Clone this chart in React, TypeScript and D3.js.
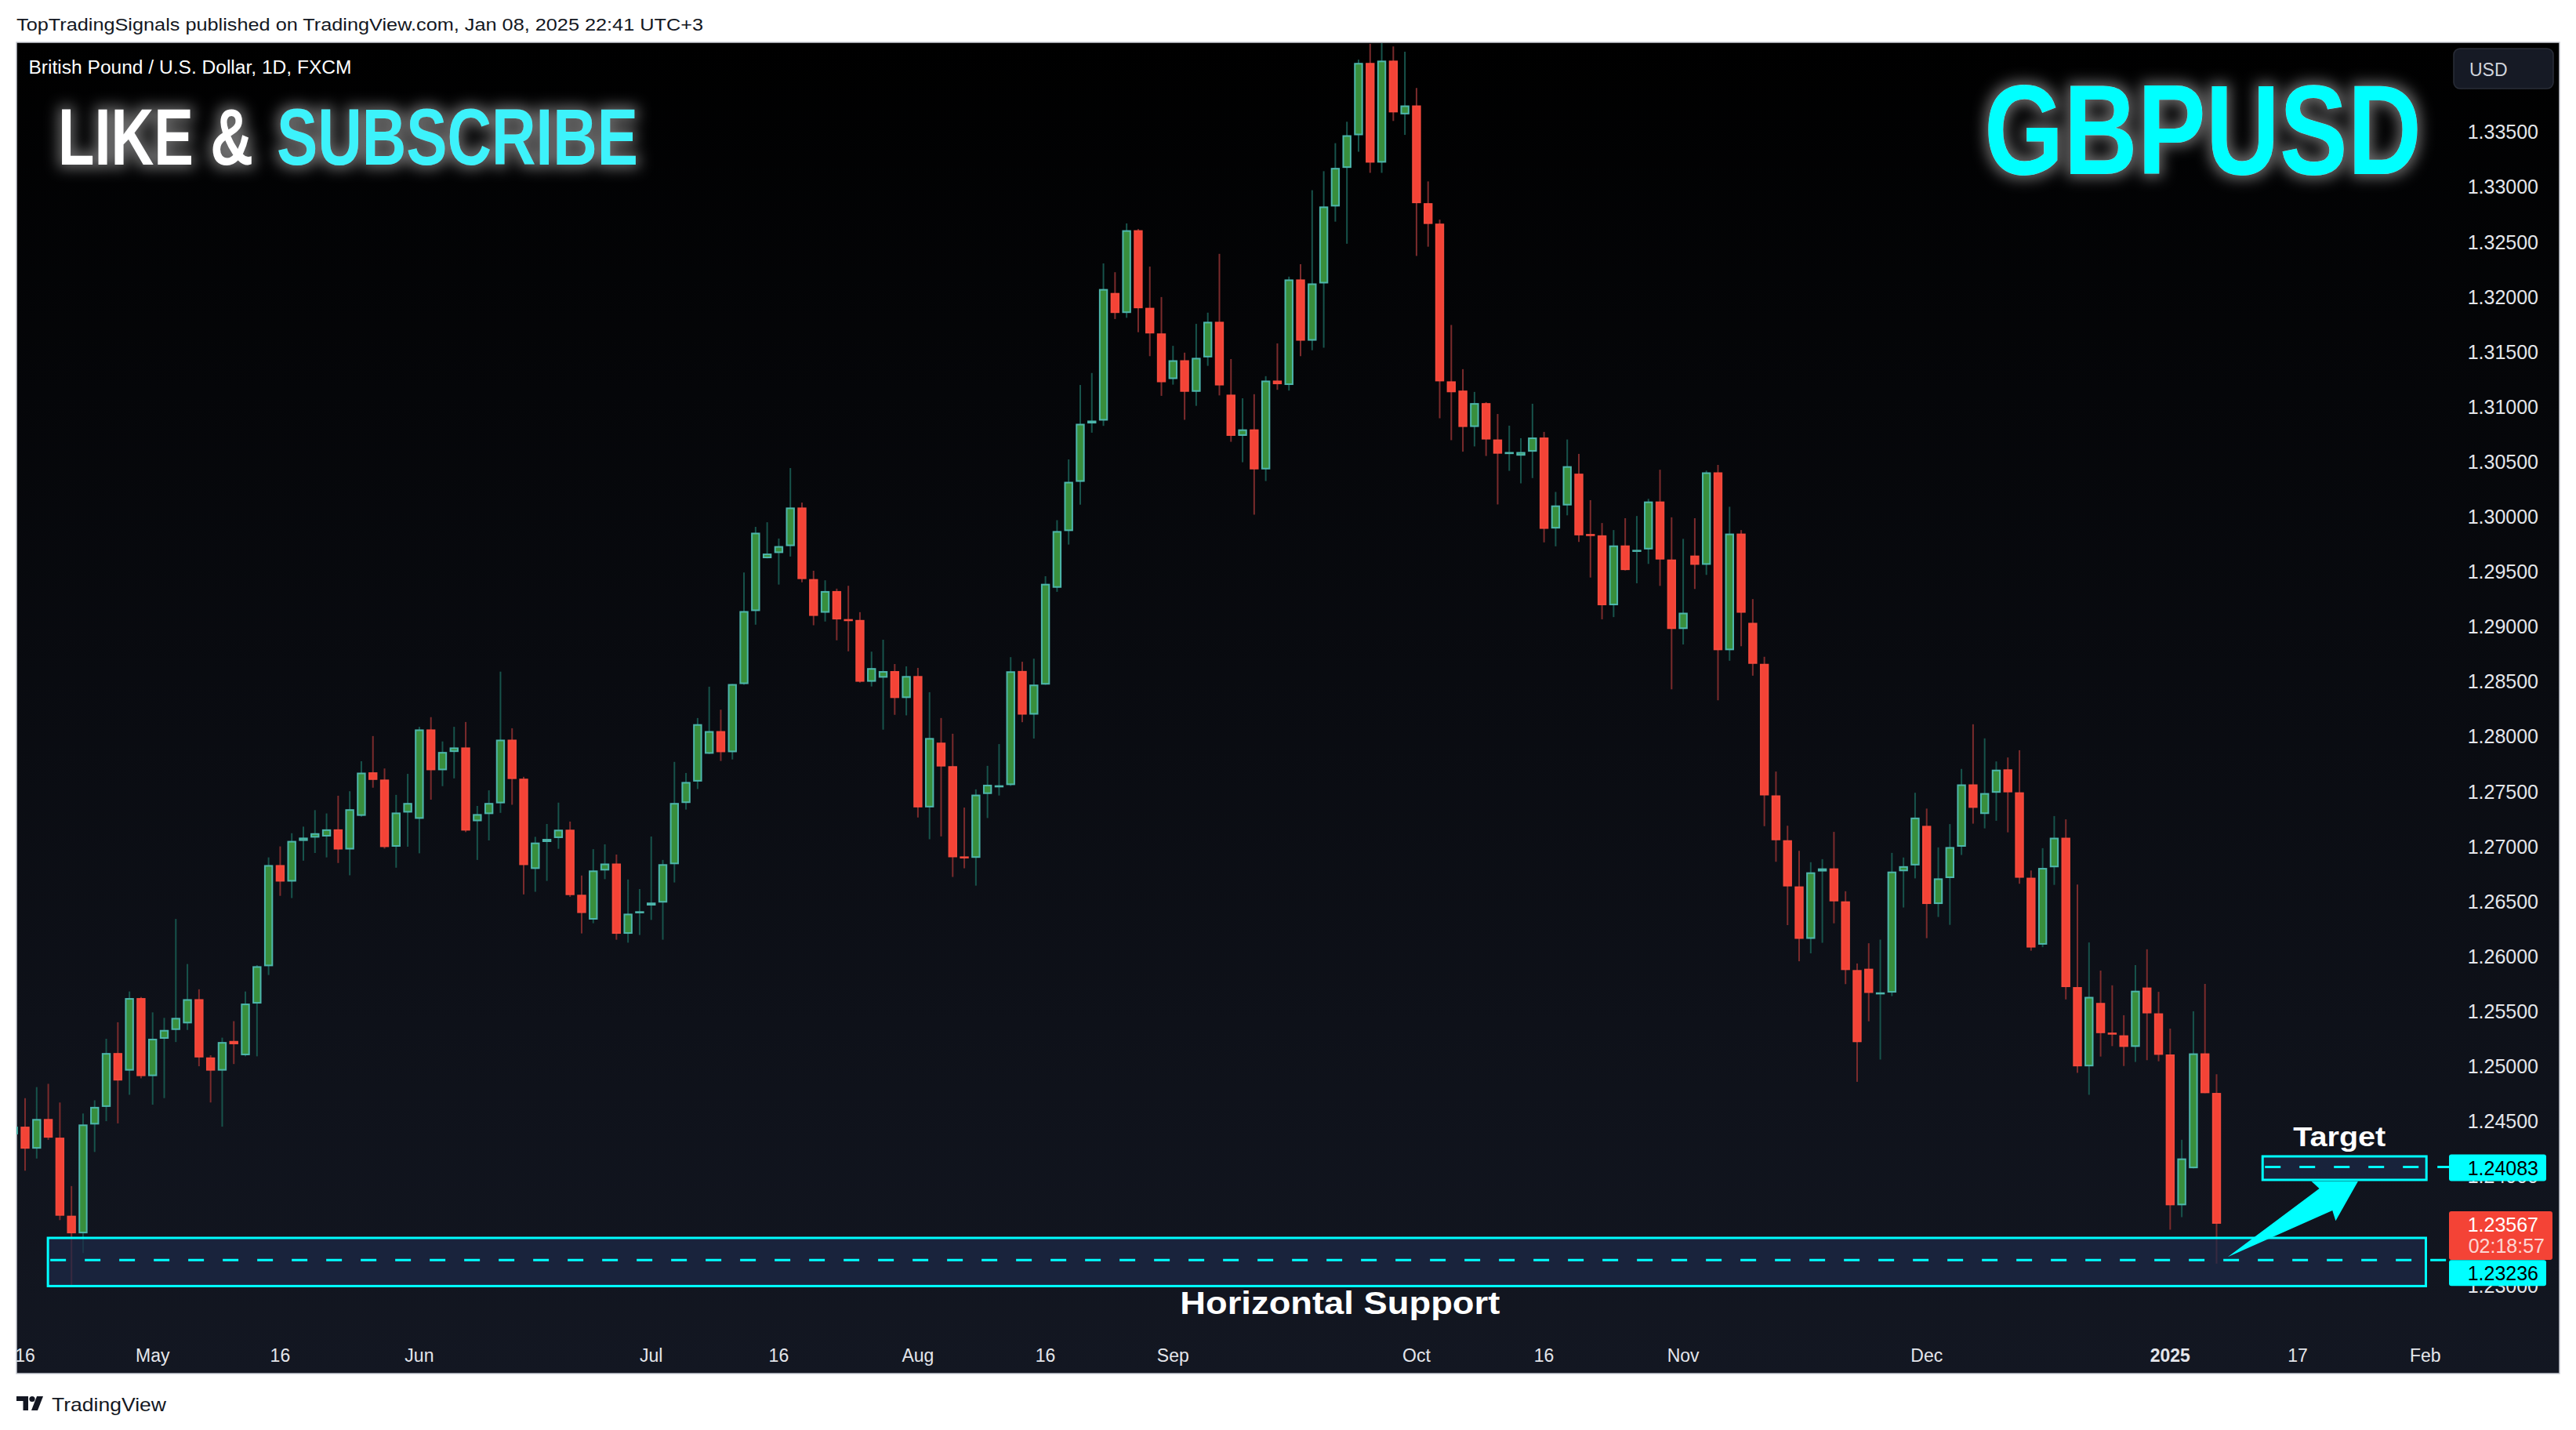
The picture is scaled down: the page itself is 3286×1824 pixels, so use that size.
import React from "react";
import * as d3 from "d3";

// GBPUSD daily, FXCM. First bar is Apr 15 2024 (mostly clipped), last is Jan 8 2025.
const holidays = ["2024-12-25", "2025-01-01"];

const opens: number[] = [
  1.2438,
  1.2445, 1.2425, 1.2452, 1.2435, 1.2364, 1.2348, 1.2447, 1.2463, 1.2512, 1.2496, 1.2562,
  1.2491, 1.2525, 1.2533, 1.2539, 1.2561, 1.2508, 1.2496, 1.2523, 1.2510, 1.2557, 1.2591, 1.2683, 1.2668, 1.2705, 1.2708, 1.2709, 1.27155, 1.26972, 1.27278, 1.27674, 1.27608, 1.26997, 1.27308,
  1.27251, 1.28064, 1.27693, 1.27859, 1.279, 1.27229, 1.27294, 1.27392, 1.27971, 1.27616, 1.26795, 1.2704, 1.27076, 1.27152, 1.2656, 1.26334, 1.26781, 1.26844, 1.26205, 1.26394,
  1.26462, 1.26489, 1.26838, 1.27395, 1.2759, 1.27843, 1.28049, 1.27857, 1.28477, 1.29141, 1.29622, 1.29669, 1.29732, 1.30083, 1.29432, 1.29126, 1.29323, 1.29068, 1.2906, 1.28498, 1.28535, 1.28595, 1.2835,
  1.2855, 1.27355, 1.27944, 1.2773, 1.26909, 1.26896, 1.27477, 1.27537, 1.27558, 1.28596, 1.28199, 1.28472, 1.29353, 1.29869, 1.30317, 1.30848, 1.30874, 1.32035, 1.31853, 1.32606, 1.319, 1.31667,
  1.31252, 1.31423, 1.31136, 1.31449, 1.31773, 1.3111, 1.30735, 1.30794, 1.3043, 1.31238, 1.31198, 1.32158, 1.31601, 1.32122, 1.32822, 1.33173, 1.3347, 1.34128, 1.33221, 1.34149, 1.3366,
  1.33741, 1.32852, 1.32666, 1.31231, 1.31147, 1.30816, 1.31033, 1.30702, 1.30583, 1.30555, 1.30591, 1.3072, 1.29892, 1.30102, 1.30391, 1.29842, 1.2983, 1.29194, 1.29738, 1.29682, 1.29702, 1.30138, 1.2961,
  1.28978, 1.29646, 1.29562, 1.30403, 1.28785, 1.29846, 1.29034, 1.28661, 1.27464, 1.27056, 1.26636, 1.26159, 1.26772, 1.268, 1.265, 1.25875, 1.25887, 1.2567, 1.2567, 1.26774, 1.26827,
  1.27187, 1.26476, 1.26712, 1.26997, 1.27564, 1.27295, 1.27488, 1.27701, 1.27492, 1.26715, 1.26106, 1.2681, 1.27079, 1.2572, 1.24999, 1.25576, 1.25306, 1.25281, 1.25176, 1.25716, 1.25481,
  1.25107, 1.23735, 1.24072, 1.25117, 1.24757,
];

const highs: number[] = [
  1.247,
  1.2471, 1.2481, 1.2484, 1.2467, 1.2391, 1.2457, 1.2469, 1.2525, 1.254, 1.2568, 1.2563,
  1.2549, 1.2544, 1.2634, 1.2593, 1.257, 1.251, 1.2526, 1.2541, 1.2568, 1.2592, 1.269, 1.27, 1.2712, 1.2718, 1.2733, 1.273, 1.27461, 1.27502, 1.27775, 1.28004, 1.27709, 1.27469, 1.2766,
  1.28088, 1.28176, 1.27955, 1.28088, 1.28132, 1.27368, 1.2751, 1.2859, 1.28075, 1.27633, 1.27087, 1.27204, 1.27398, 1.27226, 1.26735, 1.26975, 1.27019, 1.26926, 1.26699, 1.26612,
  1.2709, 1.26877, 1.27769, 1.27668, 1.28168, 1.28453, 1.28244, 1.28477, 1.29492, 1.29907, 1.29949, 1.29801, 1.30442, 1.30128, 1.29508, 1.29421, 1.29345, 1.29371, 1.29131, 1.28772, 1.2888, 1.28659, 1.28638,
  1.28624, 1.28403, 1.28168, 1.28025, 1.27353, 1.27519, 1.27733, 1.27931, 1.28722, 1.2868, 1.28708, 1.29458, 1.29968, 1.30521, 1.31198, 1.31307, 1.32304, 1.32224, 1.32668, 1.32617, 1.32275, 1.31998,
  1.31554, 1.31492, 1.31754, 1.31856, 1.32391, 1.31434, 1.31077, 1.31114, 1.31278, 1.31576, 1.32184, 1.32297, 1.3297, 1.33143, 1.33398, 1.33593, 1.34158, 1.34302, 1.34308, 1.34278, 1.3423,
  1.339, 1.3305, 1.32702, 1.31744, 1.31342, 1.31135, 1.31042, 1.30934, 1.30828, 1.30714, 1.31027, 1.30771, 1.30225, 1.30702, 1.30571, 1.3015, 1.29942, 1.29878, 1.29986, 1.30006, 1.30162, 1.30427, 1.29994,
  1.29798, 1.29986, 1.30419, 1.30471, 1.3009, 1.29878, 1.2925, 1.28725, 1.27681, 1.27188, 1.2696, 1.26856, 1.26884, 1.27132, 1.26592, 1.25935, 1.26119, 1.26152, 1.26941, 1.26899, 1.27488,
  1.27344, 1.26991, 1.27203, 1.27705, 1.28111, 1.27983, 1.27773, 1.27809, 1.27875, 1.26781, 1.26984, 1.27276, 1.27246, 1.26653, 1.26126, 1.2587, 1.25736, 1.25464, 1.2592, 1.26064, 1.25677,
  1.25343, 1.24331, 1.255, 1.25749, 1.24927,
];

const lows: number[] = [
  1.2425,
  1.2405, 1.2416, 1.2433, 1.236, 1.23, 1.233, 1.2422, 1.245, 1.2448, 1.2474, 1.2489,
  1.2465, 1.2471, 1.2522, 1.2533, 1.25, 1.2467, 1.2445, 1.2502, 1.2509, 1.2509, 1.2583, 1.2655, 1.2653, 1.2687, 1.2694, 1.269, 1.26849, 1.26737, 1.2727, 1.27534, 1.2698, 1.26806, 1.26997,
  1.26937, 1.27425, 1.27548, 1.27619, 1.2713, 1.26877, 1.27054, 1.27305, 1.27379, 1.26563, 1.26587, 1.26686, 1.26978, 1.26541, 1.26208, 1.26301, 1.26702, 1.26151, 1.26124, 1.26194,
  1.26331, 1.26151, 1.26672, 1.27335, 1.27522, 1.2784, 1.27777, 1.27791, 1.2847, 1.29017, 1.2962, 1.29382, 1.29637, 1.29403, 1.29012, 1.29046, 1.28875, 1.28775, 1.2849, 1.28455, 1.28062, 1.28197, 1.28192,
  1.27263, 1.27065, 1.27091, 1.26722, 1.26801, 1.26643, 1.27258, 1.27463, 1.2755, 1.2813, 1.27981, 1.2847, 1.29316, 1.29746, 1.30109, 1.30764, 1.30826, 1.31798, 1.31809, 1.31678, 1.3146, 1.31099,
  1.31201, 1.30881, 1.31008, 1.31372, 1.31103, 1.30681, 1.30495, 1.30018, 1.30324, 1.31154, 1.31147, 1.3146, 1.31514, 1.31537, 1.32684, 1.32483, 1.3332, 1.33128, 1.33128, 1.336, 1.33473,
  1.32372, 1.32456, 1.30895, 1.30696, 1.30591, 1.30639, 1.30552, 1.30111, 1.30417, 1.30303, 1.30351, 1.29766, 1.2973, 1.30012, 1.2977, 1.29446, 1.29066, 1.29086, 1.2951, 1.29394, 1.2957, 1.2937, 1.28429,
  1.28837, 1.29342, 1.2947, 1.28329, 1.28689, 1.28821, 1.28553, 1.27184, 1.2686, 1.26284, 1.25955, 1.26027, 1.26123, 1.263, 1.25747, 1.24858, 1.25409, 1.25061, 1.25638, 1.26444, 1.26709,
  1.26165, 1.26358, 1.26286, 1.26922, 1.27207, 1.27164, 1.27233, 1.27128, 1.2666, 1.26051, 1.26083, 1.2665, 1.25608, 1.2494, 1.2474, 1.25088, 1.25183, 1.25002, 1.25039, 1.25055, 1.25045,
  1.23512, 1.23627, 1.2407, 1.24755, 1.23204,
];

const closes: number[] = [
  1.2445,
  1.2425, 1.2452, 1.2435, 1.2364, 1.2348, 1.2447, 1.2463, 1.2512, 1.2487, 1.2562, 1.2491,
  1.2525, 1.2533, 1.2544, 1.2561, 1.2508, 1.2496, 1.2522, 1.252, 1.2557, 1.2591, 1.2683, 1.2668, 1.2705, 1.2708, 1.2712, 1.27155, 1.26972, 1.27338, 1.27671, 1.27605, 1.26994, 1.27308, 1.27395,
  1.28064, 1.27693, 1.27859, 1.279, 1.27144, 1.27294, 1.27395, 1.27971, 1.27613, 1.2683, 1.27035, 1.27068, 1.27152, 1.26557, 1.26394, 1.26781, 1.26844, 1.26205, 1.26388, 1.2641,
  1.26489, 1.26838, 1.27395, 1.27586, 1.28112, 1.28049, 1.27857, 1.28477, 1.29141, 1.29854, 1.29664, 1.29732, 1.30083, 1.29432, 1.29097, 1.29323, 1.29065, 1.29065, 1.28498, 1.28622, 1.28595, 1.2835, 1.2855,
  1.27355, 1.27986, 1.27727, 1.26901, 1.26904, 1.27471, 1.27561, 1.27556, 1.28593, 1.28199, 1.28472, 1.29389, 1.29869, 1.30317, 1.30845, 1.30874, 1.32071, 1.31853, 1.32606, 1.31896, 1.31667, 1.31223,
  1.31423, 1.31136, 1.31445, 1.31773, 1.31194, 1.30735, 1.30794, 1.3043, 1.31238, 1.31205, 1.32158, 1.31601, 1.32122, 1.32822, 1.33173, 1.3347, 1.34128, 1.33221, 1.34149, 1.33678, 1.33741,
  1.32852, 1.32663, 1.31231, 1.31132, 1.30816, 1.31033, 1.30702, 1.30573, 1.30588, 1.30588, 1.3072, 1.29889, 1.30102, 1.30459, 1.2983, 1.29834, 1.29194, 1.29738, 1.29514, 1.29698, 1.30138, 1.2961, 1.28978,
  1.29126, 1.29562, 1.30403, 1.28785, 1.29846, 1.29126, 1.28661, 1.27464, 1.27056, 1.26636, 1.26159, 1.26764, 1.268, 1.265, 1.25875, 1.25219, 1.25667, 1.25672, 1.26771, 1.2682, 1.27262,
  1.26476, 1.26709, 1.26994, 1.27564, 1.27351, 1.27485, 1.27698, 1.27492, 1.26715, 1.2608, 1.26804, 1.27079, 1.2572, 1.24999, 1.25631, 1.25301, 1.25302, 1.25176, 1.25687, 1.25481, 1.25104,
  1.23735, 1.24161, 1.25117, 1.24755, 1.23567,
];

// 1.23500 sits fully under the last-price label, so the scale hides it
const priceTicks = d3
  .range(0, 22)
  .map((i) => 1.23 + i * 0.005)
  .filter((p) => Math.abs(p - 1.235) > 1e-6);

const timeTicks: [string, string][] = [
  ["2024-04-16", "16"], ["2024-05-01", "May"], ["2024-05-16", "16"], ["2024-06-03", "Jun"],
  ["2024-07-01", "Jul"], ["2024-07-16", "16"], ["2024-08-01", "Aug"], ["2024-08-16", "16"],
  ["2024-09-02", "Sep"], ["2024-10-01", "Oct"], ["2024-10-16", "16"], ["2024-11-01", "Nov"],
  ["2024-12-02", "Dec"], ["2025-01-02", "2025"], ["2025-01-17", "17"], ["2025-02-03", "Feb"],
];

// drawings: zones in (bar index, price)
const supportZone = { from: 2.97, to: 208.05, top: 1.23438, bottom: 1.23, level: 1.23236 };
const targetZone = { from: 193.97, to: 208.1, top: 1.2418, bottom: 1.23966, level: 1.24083 };
const arrowPts: [number, number][] = [
  [190.97, 1.23265], [198.86, 1.23887], [198.18, 1.23954], [202.2, 1.23954],
  [200.27, 1.23593], [199.99, 1.23688],
];
const lastPrice = 1.23567;
const countdown = "02:18:57";

const fmtDay = d3.timeFormat("%Y-%m-%d");
const days = d3.timeDay
  .range(new Date(2024, 3, 15), new Date(2025, 1, 8))
  .filter((d) => d.getDay() !== 0 && d.getDay() !== 6 && !holidays.includes(fmtDay(d)));
const dayIdx = (s: string) => days.findIndex((d) => fmtDay(d) === s);

const FONT = "'Liberation Sans', Arial, sans-serif";
const frame = { left: 21, top: 54, right: 3265, bottom: 1752 };
const paneRight = 3118;
const paneBottom = 1700;

const UP_FILL = "#388e3c";
const UP_LINE = "#4db6ac";
const UP_WICK = "#17534b";
const DN_FILL = "#f44336";
const DN_LINE = "#f44a3d";
const DN_WICK = "#7b2b2c";

export default function App() {
  const x = d3.scaleLinear().domain([1, 190]).range([32, 2827.5]);
  const y = d3.scaleLinear().domain([1.25, 1.335]).range([1360, 168.3]);
  const bodyW = 11.4;

  const candles = opens.map((o, i) => ({ i, o, h: highs[i], l: lows[i], c: closes[i] }));

  const axisX = paneRight + 120;

  return (
    <svg
      width={3286}
      height={1824}
      style={{ position: "absolute", left: 0, top: 0, display: "block" }}
      fontFamily={FONT}
    >
      <defs>
        <linearGradient id="bg" x1="0" y1="0" x2="0" y2="1">
          <stop offset="0%" stopColor="#000000" />
          <stop offset="100%" stopColor="#131722" />
        </linearGradient>
        <clipPath id="pane">
          <rect x={frame.left} y={frame.top + 1} width={paneRight - frame.left} height={paneBottom - frame.top} />
        </clipPath>
        <clipPath id="frameClip">
          <rect x={frame.left} y={frame.top} width={frame.right - frame.left} height={frame.bottom - frame.top} />
        </clipPath>
        <filter id="glow" x="-20%" y="-60%" width="140%" height="220%">
          <feMorphology in="SourceAlpha" operator="dilate" radius="4" result="d" />
          <feGaussianBlur in="d" stdDeviation="9" result="b" />
          <feFlood floodColor="#ffffff" floodOpacity="0.42" />
          <feComposite in2="b" operator="in" result="g" />
          <feMerge>
            <feMergeNode in="g" />
            <feMergeNode in="SourceGraphic" />
          </feMerge>
        </filter>
      </defs>

      <rect x={0} y={0} width={3286} height={1824} fill="#ffffff" />
      <text x={21} y={39} fontSize={22} fill="#131722" textLength={876} lengthAdjust="spacingAndGlyphs">
        TopTradingSignals published on TradingView.com, Jan 08, 2025 22:41 UTC+3
      </text>

      <rect
        x={frame.left}
        y={frame.top}
        width={frame.right - frame.left}
        height={frame.bottom - frame.top}
        fill="url(#bg)"
        stroke="#c9ccd4"
        strokeWidth={1.5}
      />

      {/* candles */}
      <g clipPath="url(#pane)">
        {candles.map((d) => {
          const cx = x(d.i);
          const up = d.c >= d.o;
          const top = y(Math.max(d.o, d.c));
          const bot = y(Math.min(d.o, d.c));
          const h = Math.max(bot - top - 2, 0.6);
          return (
            <g key={d.i}>
              <line x1={cx} x2={cx} y1={y(d.h)} y2={y(d.l)} stroke={up ? UP_WICK : DN_WICK} strokeWidth={2} />
              <rect
                x={cx - bodyW / 2 + 1}
                y={top + 1}
                width={bodyW - 2}
                height={h}
                fill={up ? UP_FILL : DN_FILL}
                stroke={up ? UP_LINE : DN_LINE}
                strokeWidth={2}
              />
            </g>
          );
        })}
      </g>

      {/* drawings */}
      <g clipPath="url(#frameClip)">
        <rect
          x={x(supportZone.from)}
          y={y(supportZone.top)}
          width={x(supportZone.to) - x(supportZone.from)}
          height={y(supportZone.bottom) - y(supportZone.top)}
          fill="#1c2a48"
          fillOpacity={0.7}
          stroke="#00ffff"
          strokeWidth={3}
        />
        <line
          x1={x(supportZone.from) + 3}
          x2={paneRight + 6}
          y1={y(supportZone.level)}
          y2={y(supportZone.level)}
          stroke="#00ffff"
          strokeWidth={3}
          strokeDasharray="20 24"
        />
        <rect
          x={x(targetZone.from)}
          y={y(targetZone.top)}
          width={x(targetZone.to) - x(targetZone.from)}
          height={y(targetZone.bottom) - y(targetZone.top)}
          fill="#1c2a48"
          fillOpacity={0.7}
          stroke="#00ffff"
          strokeWidth={3}
        />
        <line
          x1={x(targetZone.from) + 3}
          x2={paneRight + 6}
          y1={y(targetZone.level)}
          y2={y(targetZone.level)}
          stroke="#00ffff"
          strokeWidth={3}
          strokeDasharray="20 24"
        />
        <polygon points={arrowPts.map(([i, p]) => `${x(i)},${y(p)}`).join(" ")} fill="#00ffff" />
        <text
          x={x(200.6)}
          y={y(1.24272)}
          fontSize={35}
          fontWeight={700}
          fill="#ffffff"
          textAnchor="middle"
          textLength={118}
          lengthAdjust="spacingAndGlyphs"
        >
          Target
        </text>
        <text
          x={x(114.4)}
          y={y(1.22746)}
          fontSize={41}
          fontWeight={700}
          fill="#ffffff"
          textAnchor="middle"
          textLength={408}
          lengthAdjust="spacingAndGlyphs"
        >
          Horizontal Support
        </text>
      </g>

      {/* legend + banners */}
      <text x={36.5} y={94} fontSize={23} fill="#ffffff" textLength={412} lengthAdjust="spacingAndGlyphs">
        British Pound / U.S. Dollar, 1D, FXCM
      </text>
      <g filter="url(#glow)" fontWeight={700} fontSize={76}>
        <text transform="translate(74,210) scale(1,1.34)" fill="#ffffff" textLength={249} lengthAdjust="spacingAndGlyphs">
          LIKE &amp;
        </text>
        <text transform="translate(353,210) scale(1,1.34)" fill="#3ef2fb" textLength={461} lengthAdjust="spacingAndGlyphs">
          SUBSCRIBE
        </text>
      </g>
      <g filter="url(#glow)">
        <text
          transform="translate(2531,222) scale(1,1.254)"
          fontSize={130}
          fontWeight={700}
          fill="#00ffff"
          textLength={558}
          lengthAdjust="spacingAndGlyphs"
        >
          GBPUSD
        </text>
      </g>

      {/* price axis */}
      <rect x={3130} y={62} width={127} height={51} rx={8} fill="#161a25" stroke="#2a2e39" strokeWidth={1.5} />
      <text x={3150} y={97} fontSize={23} fill="#d1d4dc">
        USD
      </text>
      {priceTicks.map((p) => (
        <text key={p} x={axisX} y={y(p)} fontSize={25} fill="#e4e6eb" textAnchor="end" dominantBaseline="central">
          {p.toFixed(5)}
        </text>
      ))}
      <rect x={3124} y={y(targetZone.level) - 16} width={124} height={34} rx={3} fill="#00ffff" />
      <text x={axisX} y={y(targetZone.level) + 1} fontSize={25} fill="#000000" textAnchor="end" dominantBaseline="central">
        {targetZone.level.toFixed(5)}
      </text>
      <rect x={3124} y={y(lastPrice) - 16} width={132} height={62} rx={3} fill="#f44336" />
      <text x={axisX} y={y(lastPrice) + 1} fontSize={25} fill="#ffffff" textAnchor="end" dominantBaseline="central">
        {lastPrice.toFixed(5)}
      </text>
      <text x={3246} y={y(lastPrice) + 28} fontSize={25} fill="#ffffff" fillOpacity={0.8} textAnchor="end" dominantBaseline="central">
        {countdown}
      </text>
      <rect x={3124} y={y(supportZone.level)} width={124} height={33} rx={3} fill="#00ffff" />
      <text x={axisX} y={y(supportZone.level) + 17} fontSize={25} fill="#000000" textAnchor="end" dominantBaseline="central">
        {supportZone.level.toFixed(5)}
      </text>

      {/* time axis */}
      <g clipPath="url(#frameClip)">
        {timeTicks.map(([d, label]) => (
          <text
            key={d}
            x={x(dayIdx(d))}
            y={1737}
            fontSize={23}
            fontWeight={label === "2025" ? 700 : 400}
            fill="#e4e6eb"
            textAnchor="middle"
          >
            {label}
          </text>
        ))}
      </g>

      {/* footer */}
      <g fill="#131722">
        <path d="M21,1781 H36 V1799 H29.5 V1787 H21 Z" />
        <circle cx={41} cy={1784.5} r={3.6} />
        <path d="M47,1781 H55 L48,1799 H40 Z" />
      </g>
      <text x={66} y={1800} fontSize={24} fill="#131722" textLength={146} lengthAdjust="spacingAndGlyphs">
        TradingView
      </text>
    </svg>
  );
}
